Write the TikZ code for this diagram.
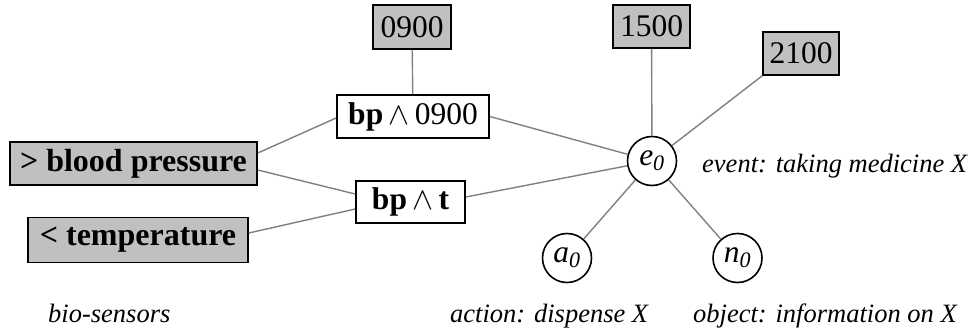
\RequirePackage{fix-cm}
\documentclass[tikz,border=0pt]{standalone}
\usepackage{fontspec}
\setmainfont{Liberation Serif}
\definecolor{boxgray}{RGB}{192,192,192}
\definecolor{linegray}{RGB}{128,128,128}
\newcommand{\andsym}{\ensuremath{\,\wedge\,}}
\begin{document}
\begin{tikzpicture}[x=1pt,y=-1pt,
  sensor/.style={draw=black,line width=1.6pt,fill=boxgray,inner sep=0pt,
    font=\fontsize{32}{32}\selectfont\bfseries},
  timebox/.style={draw=black,line width=1.6pt,fill=boxgray,inner sep=0pt,
    font=\fontsize{31.5}{31.5}\selectfont},
  conj/.style={draw=black,line width=1.6pt,fill=white,inner sep=0pt,
    font=\fontsize{31.5}{31.5}\selectfont},
  ent/.style={draw=black,line width=1.6pt,circle,fill=white,inner sep=0pt,
    minimum size=49pt,font=\fontsize{31.5}{31.5}\selectfont\itshape},
  lbl/.style={inner sep=0pt,anchor=base west,font=\fontsize{26.5}{26.5}\selectfont\itshape},
  link/.style={draw=linegray,line width=1.4pt}]
\useasboundingbox (0,0) rectangle (976,331);

% nodes
\node[sensor,minimum width=247pt,minimum height=43pt] (bp) at (133.5,163.5) {> blood pressure};
\node[sensor,minimum width=220pt,minimum height=45pt] (temp) at (138,240) {< temperature};
\node[conj,minimum width=152pt,minimum height=43pt] (bpn) at (413,116.5) {\textbf{bp}\andsym 0900};
\node[conj,minimum width=109pt,minimum height=42pt] (bpt) at (410.5,202) {\textbf{bp}\andsym\textbf{t}};
\node[timebox,minimum width=78pt,minimum height=44pt] (t9) at (412,27) {0900};
\node[timebox,minimum width=77pt,minimum height=43pt] (t15) at (651.5,26.5) {1500};
\node[timebox,minimum width=76pt,minimum height=43pt] (t21) at (801,53.5) {2100};
\node[ent] (e0) at (652,161) {e\textsubscript{0}};
\node[ent] (a0) at (567,258) {a\textsubscript{0}};
\node[ent] (n0) at (737.5,258) {n\textsubscript{0}};

% labels
\node[lbl] (levent) at (702,172) {event: taking medicine X};
\node[lbl] (laction) at (450,322) {action: dispense X};
\node[lbl] (lobject) at (693,322) {object: information on X};
\node[lbl] (lbio) at (48,322) {bio-sensors};

% connectors
\draw[link] (t9) -- (bpn);
\draw[link] ([yshift=10.5pt]bp.east) -- ([yshift=-1.5pt]bpn.west);
\draw[link] ([yshift=-6.5pt]bp.east) -- ([yshift=8pt]bpt.west);
\draw[link] ([yshift=7pt]temp.east) -- ([yshift=-7pt]bpt.west);
\draw[link] (bpn.east) -- (e0);
\draw[link] ([yshift=5pt]bpt.east) -- (e0);
\draw[link] (t15) -- (e0);
\draw[link] (t21.south west) -- (e0);
\draw[link] (e0) -- (a0);
\draw[link] (e0) -- (n0);
\end{tikzpicture}
\end{document}
